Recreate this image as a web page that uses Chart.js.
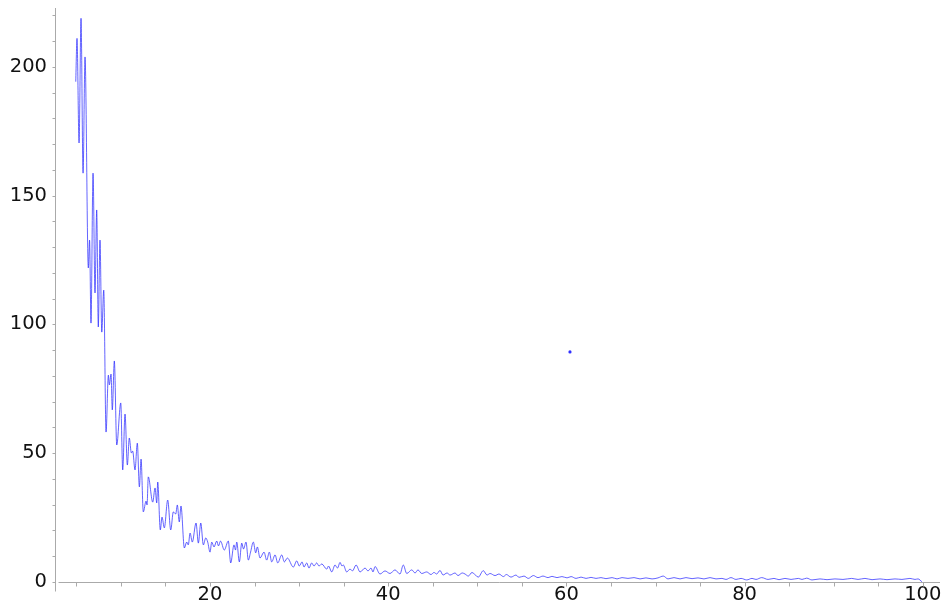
<!DOCTYPE html>
<html>
<head>
<meta charset="utf-8">
<script src="https://cdn.jsdelivr.net/npm/chart.js@4.4.1/dist/chart.umd.min.js"></script>
<style>
  html, body { margin: 0; padding: 0; background: #fff; }
  #wrap { width: 948px; height: 609px; }
</style>
</head>
<body>
<div id="wrap"><canvas id="plot" width="948" height="609"></canvas></div>
<script>
// curve samples (peaks / troughs)
const xs = [
  4.93, 5.07, 5.30, 5.52, 5.75, 5.97, 6.34, 6.48, 6.64, 6.87,
  7.09, 7.28, 7.46, 7.65, 7.85, 8.07, 8.33, 8.59, 8.70, 8.89,
  9.03, 9.26, 9.53, 9.98, 10.20, 10.46, 10.72, 10.94, 11.17, 11.32,
  11.58, 11.84, 12.07, 12.26, 12.51, 12.82, 12.93, 13.07, 13.57, 13.83,
  14.02, 14.13, 14.42, 14.61, 14.87, 15.25, 15.59, 15.88, 16.15, 16.33,
  16.55, 16.74, 17.12, 17.38, 17.56, 17.76, 18.01, 18.43, 18.69, 18.96,
  19.25, 19.52, 19.74, 20.00, 20.19, 20.45, 20.75, 20.95, 21.18, 21.60,
  22.05, 22.32, 22.69, 22.86, 23.00, 23.29, 23.56, 23.76, 24.04, 24.30,
  24.55, 24.86, 25.13, 25.31, 25.61, 26.06, 26.36, 26.66, 26.92, 27.30,
  27.60, 28.05, 28.34, 28.68, 29.35, 29.73, 30.02, 30.33, 30.55, 30.85,
  31.11, 31.41, 31.67, 31.97, 32.23, 32.54, 33.10, 33.30, 33.66, 34.03,
  34.31, 34.59, 34.81, 34.96, 35.34, 35.71, 35.99, 36.39, 36.84, 37.40,
  37.73, 38.07, 38.29, 38.52, 39.08, 39.64, 40.20, 40.76, 41.32, 41.69,
  42.08, 42.64, 43.01, 43.34, 43.76, 44.32, 44.80, 45.14, 45.44, 45.81,
  46.15, 46.60, 46.94, 47.50, 47.83, 48.31, 48.62, 48.99, 49.40, 50.11,
  50.67, 51.09, 51.43, 51.99, 52.43, 52.93, 53.26, 53.78, 54.34, 54.68,
  55.24, 55.72, 56.29, 56.81, 57.37, 57.94, 58.38, 58.94, 59.50, 60.07,
  60.52, 61.08, 61.64, 62.20, 62.76, 63.32, 63.88, 64.44, 65.12, 65.68,
  66.24, 66.91, 67.59, 68.26, 68.93, 69.61, 70.28, 70.87, 71.40, 72.08,
  72.75, 73.42, 74.10, 74.77, 75.44, 76.12, 76.79, 77.46, 77.91, 78.47,
  79.03, 79.60, 80.24, 80.83, 81.28, 81.92, 82.63, 83.30, 83.86, 84.53,
  85.21, 86.03, 86.44, 86.97, 87.56, 88.46, 89.25, 90.14, 91.04, 92.02,
  92.73, 93.51, 94.30, 95.20, 95.98, 96.88, 97.66, 98.56, 99.12, 99.46,
  99.90
];
const ys = [
  194.2, 211.0, 170.4, 218.8, 158.7, 203.8, 121.9, 132.7, 100.5, 158.7,
  112.2, 144.4, 99.0, 132.7, 97.0, 113.3, 58.2, 80.3, 76.5, 80.7,
  66.8, 85.8, 53.2, 69.5, 43.5, 65.2, 45.4, 55.9, 50.1, 50.8,
  43.5, 53.9, 36.9, 47.7, 27.2, 31.4, 29.9, 40.8, 31.0, 36.5,
  30.7, 38.8, 20.2, 25.2, 21.0, 31.8, 20.2, 27.2, 26.4, 29.9,
  23.3, 29.5, 13.2, 15.5, 14.4, 19.0, 15.5, 22.9, 15.1, 22.9,
  14.4, 17.1, 15.5, 11.6, 15.5, 13.6, 15.9, 14.0, 15.9, 12.4,
  15.9, 7.4, 14.4, 12.4, 15.5, 7.8, 15.1, 12.8, 15.5, 8.5,
  11.6, 15.5, 11.3, 13.6, 9.3, 11.6, 8.5, 11.6, 7.8, 10.5,
  7.4, 10.5, 7.8, 9.3, 5.8, 8.2, 6.2, 7.8, 5.8, 7.4,
  5.4, 7.4, 6.2, 7.4, 6.2, 7.0, 5.0, 6.2, 3.9, 6.6,
  5.4, 7.6, 6.2, 6.6, 3.9, 5.0, 4.3, 6.6, 3.9, 5.4,
  4.3, 5.4, 3.9, 6.0, 3.1, 4.3, 3.3, 4.7, 3.1, 6.6,
  3.3, 4.7, 3.5, 4.7, 3.3, 3.9, 2.9, 3.7, 3.1, 4.5,
  2.7, 3.5, 2.7, 3.5, 2.5, 3.5, 3.1, 2.3, 3.7, 1.9,
  4.4, 2.7, 3.3, 2.5, 3.1, 2.1, 2.9, 1.9, 2.7, 1.8,
  2.3, 1.4, 2.5, 1.7, 2.3, 1.7, 2.2, 1.7, 2.1, 1.6,
  2.1, 1.4, 1.9, 1.4, 1.8, 1.4, 1.7, 1.3, 1.7, 1.2,
  1.7, 1.4, 1.7, 1.2, 1.6, 1.2, 1.6, 2.3, 1.2, 1.7,
  1.2, 1.7, 1.3, 1.6, 1.2, 1.7, 1.2, 1.4, 1.0, 1.7,
  1.0, 1.4, 0.8, 1.4, 1.0, 1.7, 1.0, 1.4, 0.9, 1.4,
  1.0, 1.4, 1.0, 1.5, 0.8, 1.2, 0.9, 1.2, 1.0, 1.4,
  1.0, 1.4, 0.9, 1.2, 0.9, 1.2, 1.0, 1.4, 1.0, 1.2,
  0.1
];
// the lone dot
const markerX = [60.4];
const markerY = [89.3];

const xTickLabels = [20, 40, 60, 80, 100];
const yTickLabels = [0, 50, 100, 150, 200];
const xMinorStep = 5;
const yMinorStep = 10;

const axisGrey = '#aaaaaa';

// sage-like axes: y axis at the left edge, x axis on y = 0
const axesPlugin = {
  id: 'sageAxes',
  beforeDatasetsDraw(chart) {
    const { ctx, scales: { x, y } } = chart;
    const ax = Math.round(x.getPixelForValue(x.min)) + 0.5;
    const ay = Math.round(y.getPixelForValue(0)) + 0.5;
    ctx.save();
    ctx.strokeStyle = axisGrey;
    ctx.lineWidth = 1;
    ctx.beginPath();
    ctx.moveTo(ax, y.getPixelForValue(y.max));
    ctx.lineTo(ax, ay + 9);
    ctx.moveTo(ax + 3, ay);
    ctx.lineTo(x.getPixelForValue(x.max), ay);
    for (let v = 5; v <= 100; v += xMinorStep) {
      const px = Math.round(x.getPixelForValue(v)) + 0.5;
      ctx.moveTo(px, ay);
      ctx.lineTo(px, ay + 4);
    }
    for (let v = 0; v <= 220; v += yMinorStep) {
      const py = Math.round(y.getPixelForValue(v)) + 0.5;
      ctx.moveTo(ax, py);
      ctx.lineTo(ax - 3, py);
    }
    ctx.stroke();
    ctx.restore();
  }
};

const points = xs.map((v, i) => ({ x: v, y: ys[i] }));
const marker = markerX.map((v, i) => ({ x: v, y: markerY[i] }));

const tickFont = { family: 'DejaVu Sans', size: 19.5 };

function noEdgePadding(s) {
  s.paddingTop = 0;
  s.paddingBottom = 0;
  s.paddingLeft = 0;
  s.paddingRight = 0;
}

new Chart(document.getElementById('plot').getContext('2d'), {
  type: 'line',
  data: {
    datasets: [
      {
        data: points,
        borderColor: 'rgba(40,40,255,0.72)',
        borderWidth: 1,
        pointRadius: 0,
        fill: false,
        cubicInterpolationMode: 'monotone'
      },
      {
        type: 'scatter',
        data: marker,
        backgroundColor: '#3030ff',
        borderWidth: 0,
        pointRadius: 1.6
      }
    ]
  },
  options: {
    responsive: false,
    animation: false,
    layout: { padding: { top: 8, right: 8, left: 0, bottom: 0 } },
    plugins: { legend: { display: false }, tooltip: { enabled: false } },
    scales: {
      x: {
        type: 'linear',
        min: 2.6,
        max: 101.93,
        border: { display: false },
        grid: { display: false, drawTicks: false },
        afterFit: (s) => { s.height = 27; noEdgePadding(s); },
        afterBuildTicks: (s) => { s.ticks = xTickLabels.map(v => ({ value: v })); },
        ticks: { color: '#111', font: tickFont, padding: 1, maxRotation: 0, autoSkip: false }
      },
      y: {
        type: 'linear',
        min: 0,
        max: 222.8,
        border: { display: false },
        grid: { display: false, drawTicks: false },
        afterFit: (s) => { s.width = 55; noEdgePadding(s); },
        afterBuildTicks: (s) => { s.ticks = yTickLabels.map(v => ({ value: v })); },
        ticks: { color: '#111', font: tickFont, padding: 8 }
      }
    }
  },
  plugins: [axesPlugin]
});
</script>
</body>
</html>
